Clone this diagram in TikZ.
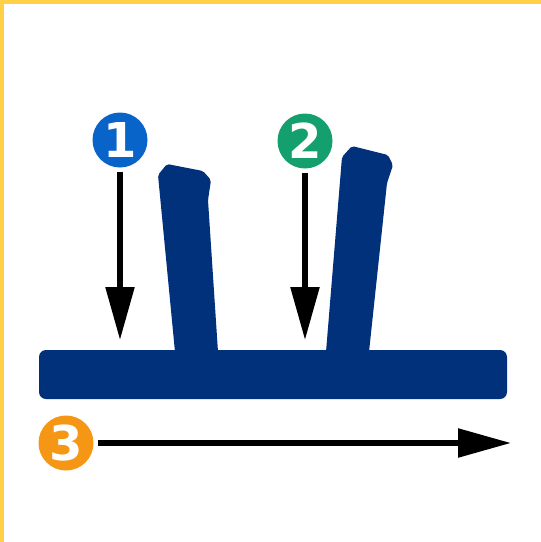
\documentclass[tikz,border=0pt]{standalone}
\usepackage{fontspec}
\setsansfont{DejaVu Sans}
\usetikzlibrary{arrows.meta}
\definecolor{barblue}{RGB}{0,49,122}
\definecolor{oneblue}{RGB}{8,100,200}
\definecolor{twogreen}{RGB}{20,160,110}
\definecolor{threeorange}{RGB}{245,150,20}
\definecolor{edgeyellow}{RGB}{255,208,72}
\tikzset{
    badge/.style={circle, minimum size=55pt, inner sep=0pt, text=white, font=\sffamily\bfseries\fontsize{48}{48}\selectfont},
    pointer/.style={line width=5.5pt, -{Triangle[width=28pt, length=53pt]}},
}
\begin{document}
\begin{tikzpicture}[x=1pt, y=-1pt]
        \useasboundingbox (0,0) rectangle (541,542);

        % Frame on two sides
        \fill[edgeyellow] (0,0) rectangle (541,4);
        \fill[edgeyellow] (0,0) rectangle (4,542);

        % Crossbar
        \fill[barblue, rounded corners=7pt] (39,350) rectangle (507,399);

        % Uprights
        \fill[barblue, rounded corners=2pt] (175,352) -- (158,175) -- (167,164) -- (203,171)
            -- (211,180) -- (208,200) -- (218,352) -- cycle;
        \fill[barblue, rounded corners=2pt] (326,352) -- (342,157) -- (352,146) -- (388,155)
            -- (393,165) -- (387,183) -- (369,352) -- cycle;

        % Badges
        \node[badge, fill=oneblue] (one) at (120,140) {1};
        \node[badge, fill=twogreen] (two) at (305,141) {2};
        \node[badge, fill=threeorange] (three) at (66,443) {3};

        % Free ends of the arrows
        \coordinate (oneend) at (120,340);
        \coordinate (twoend) at (305,340);
        \coordinate (threeend) at (511,443);

        % Arrows
        \draw[pointer, shorten <=4pt] (one) -- (oneend);
        \draw[pointer, shorten <=4pt] (two) -- (twoend);
        \draw[pointer, shorten <=4pt] (three) -- (threeend);
    \end{tikzpicture}
\end{document}
